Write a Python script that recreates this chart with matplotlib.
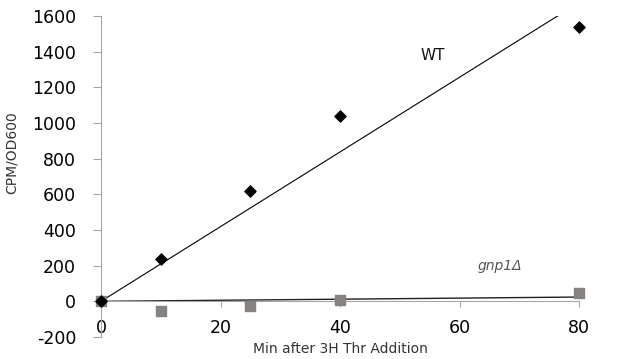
import numpy as np
import matplotlib
matplotlib.use("Agg")
import matplotlib.pyplot as plt

# minutes after 3H Thr addition
minutes = [0, 10, 25, 40, 80]
wt_cpm = [0, 240, 620, 1040, 1540]
gnp1_cpm = [0, -55, -25, 5, 45]

x_ticks = [0, 20, 40, 60, 80]
y_ticks = [-200, 0, 200, 400, 600, 800, 1000, 1200, 1400, 1600]


def fit_through_origin(x, y):
    x = np.asarray(x, dtype=float)
    y = np.asarray(y, dtype=float)
    return (x * y).sum() / (x * x).sum()


plt.rcParams["axes.unicode_minus"] = False

fig = plt.figure(figsize=(6.17, 3.59), dpi=100)
ax = fig.add_axes([101 / 617, 1 - 337 / 359, (579 - 101) / 617, (337 - 16) / 359])

axis_grey = "#a6a6a6"

# trendlines (linear, intercept 0)
xs = np.array([0, 80])
slope_wt = fit_through_origin(minutes, wt_cpm)
slope_gnp = fit_through_origin(minutes, gnp1_cpm)
ax.plot(xs, slope_wt * xs, color="black", lw=0.8, zorder=2)
ax.plot(xs, slope_gnp * xs, color="#202020", lw=1.0, zorder=2)

ax.scatter(minutes, wt_cpm, marker="D", s=32, color="black", zorder=4, clip_on=False)
ax.scatter(minutes, gnp1_cpm, marker="s", s=55, color="#86827f", zorder=3, clip_on=False)

ax.set_xlim(0, 80)
ax.set_ylim(-200, 1600)
ax.set_xticks(x_ticks)
ax.set_yticks(y_ticks)

for side in ("top", "right"):
    ax.spines[side].set_visible(False)
ax.spines["bottom"].set_position(("data", 0))
ax.spines["bottom"].set_color(axis_grey)
ax.spines["left"].set_color(axis_grey)

ax.tick_params(axis="y", direction="out", length=6, width=0.8, color=axis_grey,
               pad=12, labelsize=12.5)
ax.tick_params(axis="x", direction="out", length=4.5, width=0.8, color=axis_grey,
               pad=8, labelsize=12.5)

ax.text(55.6, 1380, "WT", fontsize=11, ha="center", va="center", color="#111111")
ax.text(66.8, 196, "gnp1Δ", fontsize=10, style="italic", ha="center", va="center",
        color="#555555")

fig.text(340 / 617, 1 - 349 / 359, "Min after 3H Thr Addition", fontsize=10,
         ha="center", va="center", color="#333333")
fig.text(12 / 617, 1 - 153 / 359, "CPM/OD600", fontsize=10, rotation=90,
         ha="center", va="center", color="#333333")

fig.savefig("out.png", dpi=100)
